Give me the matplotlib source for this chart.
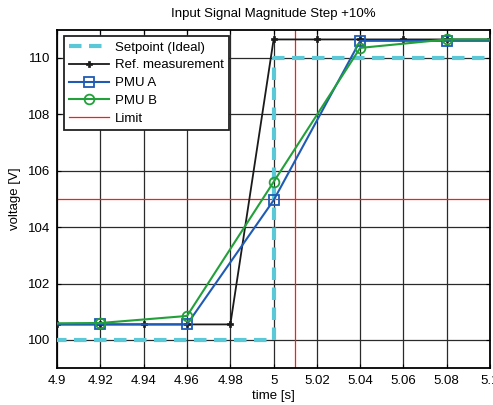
import numpy as np
import matplotlib.pyplot as plt

plt.rcParams['font.family'] = ['Liberation Sans', 'DejaVu Sans']
plt.rcParams['font.size'] = 9.5

# setpoint (ideal step)
t_set = [4.88, 5.0, 5.0, 5.12]
v_set = [100.0, 100.0, 110.0, 110.0]

# reference measurement
t_ref = [4.90, 4.92, 4.94, 4.96, 4.98, 5.00, 5.02, 5.04, 5.06, 5.08, 5.10]
v_ref = [100.55, 100.55, 100.55, 100.55, 100.55, 110.65, 110.65, 110.65, 110.65, 110.65, 110.65]

# PMU A / PMU B (reporting every 40 ms)
t_pmu = [4.88, 4.92, 4.96, 5.00, 5.04, 5.08, 5.12]
v_pmu_a = [100.55, 100.55, 100.55, 104.95, 110.6, 110.6, 110.6]
v_pmu_b = [100.58, 100.6, 100.85, 105.6, 110.35, 110.65, 110.65]

limit_t = 5.01
limit_v = 105.0

fig = plt.figure(figsize=(4.93, 4.05), dpi=100)
ax = fig.add_axes([0.116, 0.091, 0.878, 0.836])

ax.plot(t_set, v_set, color='#5bc8d8', lw=3, ls=(0, (3, 1.8)), label='Setpoint (Ideal)', zorder=3)
ax.plot(t_ref, v_ref, color='#1a1a1a', lw=1.3, marker='P', ms=4, mew=0.5,
        label='Ref. measurement', zorder=4)
ax.plot(t_pmu, v_pmu_a, color='#1f5bb5', lw=1.5, marker='s', ms=7, mfc='none', mew=1.3,
        label='PMU A', zorder=5)
ax.plot(t_pmu, v_pmu_b, color='#22a03a', lw=1.5, marker='o', ms=7, mfc='none', mew=1.3,
        label='PMU B', zorder=6)
ax.axvline(limit_t, color='#ff1a1a', lw=0.9, label='Limit', zorder=2)
ax.axhline(limit_v, color='#ff1a1a', lw=0.9, zorder=2)

ax.set_xlim(4.9, 5.1)
ax.set_ylim(99, 111)
ax.set_xticks(np.arange(4.9, 5.1001, 0.02))
ax.set_xticklabels(['4.9', '4.92', '4.94', '4.96', '4.98', '5', '5.02', '5.04', '5.06', '5.08', '5.1'])
ax.set_yticks([100, 102, 104, 106, 108, 110])
ax.grid(True, color='#2a2a2a', lw=0.9)
ax.tick_params(direction='in', length=3, top=True, right=True, width=0.8, pad=5)
for s in ax.spines.values():
    s.set_linewidth(1.3)

ax.set_title('Input Signal Magnitude Step +10%', fontsize=9.5, pad=9)
ax.set_xlabel('time [s]', labelpad=2)
ax.set_ylabel('voltage [V]', labelpad=5)

leg = ax.legend(loc='upper left', fontsize=9.5, fancybox=False, framealpha=1,
                edgecolor='#222222', borderaxespad=0.5, handlelength=3.0,
                labelspacing=0.42, borderpad=0.4, handletextpad=0.5)
leg.get_frame().set_linewidth(1.3)

fig.savefig('out.png', dpi=100)
